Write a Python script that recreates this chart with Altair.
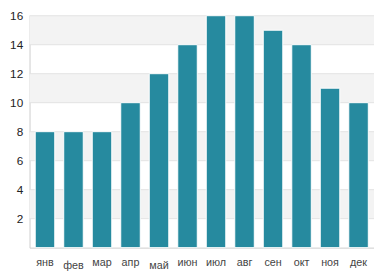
import altair as alt
import pandas as pd

months = ["янв", "фев", "мар", "апр", "май", "июн", "июл", "авг", "сен", "окт", "ноя", "дек"]
values = [8, 8, 8, 10, 12, 14, 16, 16, 15, 14, 11, 10]
band_lo = [2, 6, 10, 14]
band_hi = [4, 8, 12, 16]
y_ticks = [2, 4, 6, 8, 10, 12, 14, 16]

df = pd.DataFrame({"month": months, "value": values})
bands = pd.DataFrame({"lo": band_lo, "hi": band_hi})
grid = pd.DataFrame({"v": y_ticks})

W, H = 352, 237

yscale = alt.Scale(domain=[0, 16], nice=False)
yaxis = alt.Axis(title=None, values=y_ticks, ticks=False, grid=False, labelFont="Liberation Sans",
                 labelFontSize=12, labelColor="#222", labelPadding=7, domainColor="#cccccc")

band_layer = alt.Chart(bands).mark_rect(color="#f3f3f3").encode(
    y=alt.Y("lo:Q", scale=yscale, axis=yaxis),
    y2="hi:Q",
    x=alt.value(0),
    x2=alt.value(W),
)

grid_layer = alt.Chart(grid).mark_rule(color="#e2e2e2", strokeWidth=1).encode(
    y=alt.Y("v:Q", scale=yscale, axis=yaxis),
    x=alt.value(0),
    x2=alt.value(W),
)

bars = alt.Chart(df).mark_bar(color="#268a9f", stroke="white", strokeWidth=1).encode(
    x=alt.X("month:N", sort=months,
            scale=alt.Scale(paddingInner=0.315, paddingOuter=0.2),
            axis=alt.Axis(title=None, labelAngle=0, ticks=False, labelFont="Liberation Sans",
                          labelFontSize=11, labelColor="#444",
                          labelPadding={"condition": {"test": "datum.value == 'фев' || datum.value == 'май'",
                                                      "value": 12}, "value": 9},
                          domainColor="#cccccc", grid=False)),
    y=alt.Y("value:Q", scale=yscale, axis=yaxis),
)

chart = alt.layer(band_layer, grid_layer, bars).properties(
    width=W, height=H,
    autosize=alt.AutoSizeParams(type="none"),
    padding={"left": 22, "top": 5, "right": 0, "bottom": 22},
).configure_view(stroke=None)

chart.save("out.html", embed_options={"renderer": "svg", "actions": False})
